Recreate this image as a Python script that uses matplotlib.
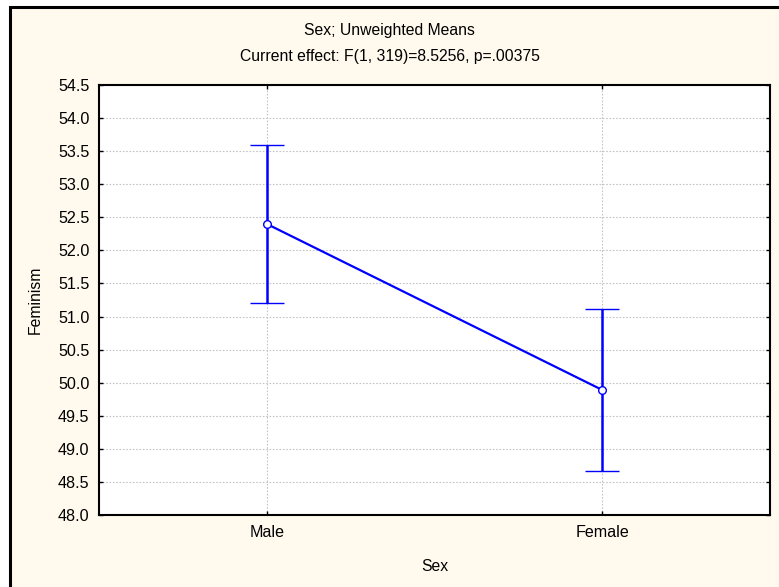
import matplotlib.pyplot as plt
from matplotlib.patches import Rectangle

# values
groups = ['Male', 'Female']
means = [52.40, 49.89]
halfCI = [1.20, 1.23]

title1 = 'Sex; Unweighted Means'
title2 = 'Current effect: F(1, 319)=8.5256, p=.00375'
yticks = [48.0 + 0.5 * i for i in range(14)]

plt.rcParams['font.family'] = ['Liberation Sans', 'DejaVu Sans']
fs = 11.3

W, H = 779, 587
fig = plt.figure(figsize=(W / 100, H / 100), dpi=100, facecolor='white')

# cream panel with black frame (cut off at right and bottom)
fig.patches.append(Rectangle((9.5 / W, -0.05), 1.1, 1 - 7 / H + 0.05,
                             transform=fig.transFigure, facecolor='#FFF9EE',
                             edgecolor='black', linewidth=2.2, zorder=-5))

ax = fig.add_axes([99 / W, 1 - 515 / H, (770 - 99) / W, (515 - 85) / H])
ax.set_zorder(2)
ax.set_facecolor('white')

blue = '#0000FF'
x = list(range(len(groups)))
ax.errorbar(x, means, yerr=halfCI, color=blue, linewidth=1.6,
            capsize=12, capthick=1.8, elinewidth=1.8,
            marker='o', markersize=5.5, markerfacecolor='white',
            markeredgecolor=blue, markeredgewidth=1, zorder=3)

ax.set_xlim(-0.5, 1.5)
ax.set_ylim(48.0, 54.5)
ax.set_xticks(x)
ax.set_xticklabels(groups)
ax.set_yticks(yticks)
ax.set_yticklabels([f'{v:.1f}' for v in yticks])

ax.grid(True, linestyle=(0, (1.5, 1.5)), color='#C4C4C4', linewidth=0.8)
ax.set_axisbelow(True)
ax.tick_params(direction='in', length=3, width=1, top=True, right=True,
               labelsize=11.6, colors='black', pad=7)
for s in ax.spines.values():
    s.set_linewidth(1.5)

ax.set_xlabel('Sex', fontsize=fs, labelpad=14)
ax.set_ylabel('Feminism', fontsize=fs, labelpad=11)

fig.text(0.5, 1 - 30 / H, title1, ha='center', va='center', fontsize=fs)
fig.text(0.5, 1 - 57 / H, title2, ha='center', va='center', fontsize=fs)

fig.savefig('out.png', dpi=100, facecolor='white')
